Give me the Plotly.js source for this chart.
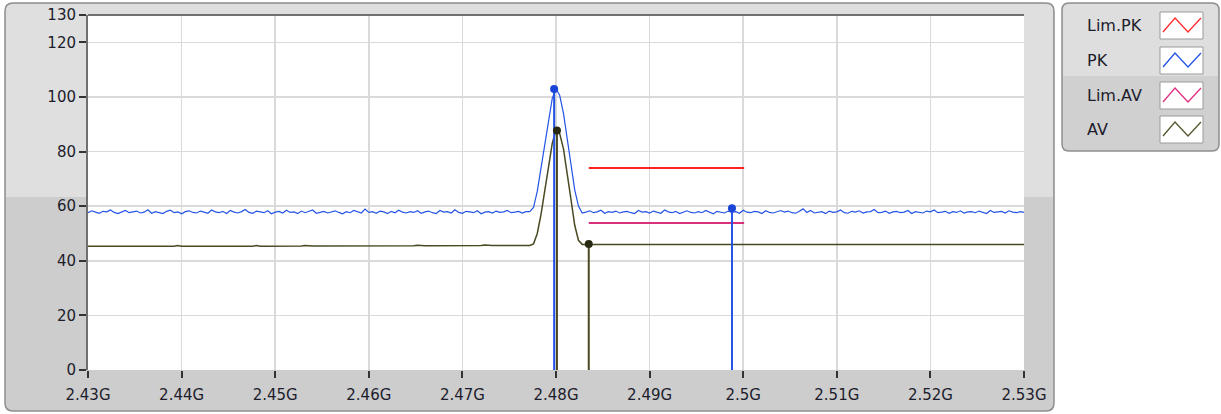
<!DOCTYPE html>
<html>
<head>
<meta charset="utf-8">
<script src="https://cdn.plot.ly/plotly-3.0.1.min.js"></script>
<style>html,body{margin:0;padding:0;background:#fff;}#chart{width:1221px;height:414px;}</style>
</head>
<body>
<div id="chart"></div>
<script>
// ---- sweep (GHz) ----
const fStart = 2.43;
const fStep = 0.0004;

// ---- PK trace (dBuV) ----
const pkLevel = [
57.6,58.3,57.8,57.4,58.1,57.9,58.6,57.7,57.3,58.0,
58.4,57.6,57.9,58.2,57.5,57.8,58.7,57.4,58.0,57.7,
57.3,58.1,58.5,57.6,57.9,57.2,58.0,58.3,57.7,57.5,
58.2,57.8,57.4,58.6,57.9,57.6,58.1,57.3,58.4,57.8,
57.5,58.0,58.8,57.7,57.4,58.2,57.9,57.6,58.3,57.2,
57.8,58.1,57.5,58.5,57.7,57.9,57.3,58.2,57.6,58.0,
58.6,57.4,57.8,58.1,57.5,57.9,58.3,57.7,57.2,58.0,
57.6,58.4,57.8,57.5,58.9,57.7,58.0,57.4,58.2,57.9,
57.3,58.1,57.6,58.5,57.8,57.5,58.0,57.7,58.3,57.4,
57.9,58.2,57.6,57.3,58.4,57.8,58.0,57.5,58.7,57.7,
57.4,58.1,57.9,57.6,58.3,57.2,57.8,58.0,57.5,58.2,
57.7,57.9,58.4,57.6,57.8,58.1,57.5,58.0,
58.0,59.5,65.5,74.0,83.0,92.0,99.5,103.0,100.5,94.0,85.0,75.0,66.0,60.0,57.5,
57.8,58.3,57.6,57.9,58.5,57.4,58.0,57.7,58.2,57.5,
57.9,58.1,57.6,57.3,58.4,57.8,58.0,57.5,58.2,57.7,
57.4,58.6,57.9,57.6,58.1,57.3,57.8,58.3,57.7,57.5,
58.0,57.6,58.4,57.9,57.2,58.1,57.8,57.5,58.2,57.7,
58.0,57.4,58.5,57.8,57.6,58.1,57.9,57.3,58.3,57.7,
57.5,58.0,58.4,57.8,58.2,57.6,57.4,58.1,59.0,57.7,
58.4,57.5,57.8,58.0,57.3,58.2,57.7,57.9,58.6,57.6,
57.4,58.1,57.8,58.3,57.5,57.9,58.0,58.8,57.6,57.7,
58.2,57.4,57.9,58.1,57.6,57.8,58.4,57.3,58.0,57.7,
57.5,58.2,57.9,58.6,57.6,57.8,58.1,57.4,58.0,57.7,
58.3,57.5,57.9,58.0,57.6,58.2,57.8,57.3,58.4,57.7,
57.9,58.1,57.5,58.3,57.8,57.6,58.0,57.7
];

// ---- AV trace (dBuV) ----
const avLevel = [
45.3,45.3,45.3,45.3,45.3,45.3,45.3,45.3,45.3,45.3,
45.3,45.3,45.3,45.3,45.3,45.3,45.3,45.3,45.3,45.3,
45.3,45.3,45.3,45.3,45.6,45.3,45.3,45.3,45.3,45.3,
45.3,45.3,45.3,45.3,45.3,45.3,45.5,45.3,45.3,45.5,
45.5,45.3,45.3,45.3,45.3,45.6,45.3,45.3,45.3,45.5,
45.3,45.3,45.4,45.4,45.4,45.4,45.4,45.4,45.6,45.4,
45.4,45.4,45.4,45.4,45.4,45.4,45.4,45.4,45.4,45.4,
45.4,45.4,45.4,45.6,45.4,45.4,45.4,45.4,45.4,45.4,
45.5,45.5,45.5,45.5,45.5,45.5,45.5,45.5,45.7,45.5,
45.5,45.5,45.5,45.5,45.5,45.5,45.5,45.5,45.5,45.5,
45.6,45.6,45.6,45.6,45.6,45.6,45.8,45.6,45.6,45.6,
45.6,45.6,45.6,45.6,45.6,45.6,45.6,45.6,
45.6,46.2,50.0,57.0,65.5,74.5,83.0,88.0,86.5,81.0,72.5,62.5,53.0,47.5,46.0,
46.0,46.0,46.0,46.0,46.0,46.0,46.0,46.0,46.0,46.0,
46.0,46.0,46.0,46.1,46.0,46.0,46.0,46.0,46.0,46.0,
46.0,46.0,46.0,46.0,46.0,46.0,46.0,46.0,46.0,46.0,
46.0,46.0,46.0,46.0,46.0,46.0,46.0,46.0,46.0,46.0,
46.0,46.0,46.0,46.0,46.1,46.0,46.0,46.0,46.0,46.0,
46.0,46.0,46.0,46.0,46.0,46.0,46.0,46.0,46.0,46.0,
46.0,46.0,46.0,46.0,46.0,46.0,46.0,46.0,46.0,46.0,
46.0,46.0,46.0,46.0,46.0,46.1,46.0,46.0,46.0,46.0,
46.0,46.0,46.0,46.0,46.0,46.0,46.0,46.0,46.0,46.0,
46.0,46.0,46.0,46.0,46.0,46.0,46.0,46.0,46.0,46.0,
46.0,46.0,46.0,46.0,46.0,46.0,46.0,46.0,46.0,46.0,
46.0,46.0,46.0,46.0,46.0,46.0,46.0,46.0
];

// ---- limit lines ----
const limFreq = [2.4835, 2.5001];
const limPK = [74.0, 74.0];
const limAV = [53.8, 53.8];

// ---- markers ----
const pkMarkFreq = [2.4798, 2.4988];
const pkMarkLevel = [102.9, 59.2];
const avMarkFreq = [2.4801, 2.4835];
const avMarkLevel = [87.7, 46.1];

// ---- axes ----
const xTickVals = [2.43,2.44,2.45,2.46,2.47,2.48,2.49,2.50,2.51,2.52,2.53];
const xTickText = ['2.43G','2.44G','2.45G','2.46G','2.47G','2.48G','2.49G','2.5G','2.51G','2.52G','2.53G'];
const yTickVals = [0,20,40,60,80,100,120,130];
const yTickText = ['0','20','40','60','80','100','120','130'];

// ---- legend ----
const legendNames = ['Lim.PK','PK','Lim.AV','AV'];
const legendColors = ['#ff2a2a','#2454e6','#e0307f','#55552e'];

const colPK = '#2454e6', colAV = '#4a4a22', colLimPK = '#ff2020', colLimAV = '#d8307a';

const freq = pkLevel.map((_, i) => fStart + i * fStep);

function stems(xs, ys) {
  const x = [], y = [];
  xs.forEach((v, i) => { x.push(v, v, null); y.push(0, ys[i], null); });
  return {x, y};
}
const pkStem = stems(pkMarkFreq, pkMarkLevel);
const avStem = stems(avMarkFreq, avMarkLevel);

const traces = [
  {x: freq, y: avLevel, mode: 'lines', line: {color: colAV, width: 1.5}, name: 'AV'},
  {x: freq, y: pkLevel, mode: 'lines', line: {color: colPK, width: 1.2}, name: 'PK'},
  {x: limFreq, y: limPK, mode: 'lines', line: {color: colLimPK, width: 2}, name: 'Lim.PK'},
  {x: limFreq, y: limAV, mode: 'lines', line: {color: colLimAV, width: 2}, name: 'Lim.AV'},
  {x: avStem.x, y: avStem.y, mode: 'lines', line: {color: colAV, width: 2}, showlegend: false},
  {x: pkStem.x, y: pkStem.y, mode: 'lines', line: {color: colPK, width: 2}, showlegend: false},
  {x: avMarkFreq, y: avMarkLevel, mode: 'markers', marker: {color: '#2a2a12', size: 8}, showlegend: false},
  {x: pkMarkFreq, y: pkMarkLevel, mode: 'markers', marker: {color: '#1a44d8', size: 8}, showlegend: false}
];

// pixel -> paper helpers (plot area 88..1024 x 15..370)
const PL = 88, PT = 15, PW = 936, PH = 355;
const X = px => (px - PL) / PW;
const Y = py => (PT + PH - py) / PH;
function rr(x0, y0, x1, y1, r, rb) {
  const a = X(x0), b = X(x1), c = Y(y0), d = Y(y1), rx = r / PW, ry = r / PH;
  const rbx = rb / PW, rby = rb / PH;
  return `M ${a+rx},${c} L ${b-rx},${c} Q ${b},${c} ${b},${c-ry} L ${b},${d+rby} Q ${b},${d} ${b-rbx},${d} L ${a+rbx},${d} Q ${a},${d} ${a},${d+rby} L ${a},${c-ry} Q ${a},${c} ${a+rx},${c} Z`;
}
const shp = (path, fill, lc, lw) => ({type: 'path', xref: 'paper', yref: 'paper', path, fillcolor: fill, line: {color: lc, width: lw}, layer: 'below'});

const shapes = [
  // main panel
  shp(rr(5, 3, 1054, 411, 8, 8), '#cdcdcd', 'rgba(0,0,0,0)', 0),
  shp(rr(6, 4, 1053, 197, 7, 0), '#dfdfdf', 'rgba(0,0,0,0)', 0),
  shp(rr(5, 3, 1054, 411, 8, 8), 'rgba(0,0,0,0)', '#8e8e8e', 1.5),
  // plot area
  {type: 'rect', xref: 'paper', yref: 'paper', x0: 0, x1: 1, y0: 0, y1: 1, fillcolor: '#ffffff', line: {width: 0}, layer: 'below'},
  // legend panel
  shp(rr(1062, 3, 1219, 151, 7, 7), '#d0d0d0', 'rgba(0,0,0,0)', 0),
  shp(rr(1063, 4, 1218, 76, 6, 0), '#dedede', 'rgba(0,0,0,0)', 0),
  shp(rr(1062, 3, 1219, 151, 7, 7), 'rgba(0,0,0,0)', '#8e8e8e', 1.5),
  // top border of plot
  {type: 'line', xref: 'paper', yref: 'paper', x0: 0, x1: 1, y0: 1, y1: 1, line: {color: '#707070', width: 2}, layer: 'above'}
];

const annotations = [];
const boxTops = [12, 47, 82, 116];
legendNames.forEach((name, i) => {
  const top = boxTops[i], bot = top + 27;
  shapes.push({type: 'rect', xref: 'paper', yref: 'paper', x0: X(1160), x1: X(1203), y0: Y(bot), y1: Y(top),
    fillcolor: '#ffffff', line: {color: '#9a9a9a', width: 1}, layer: 'below'});
  const lo = Y(bot - 7), hi = Y(top + 6);
  shapes.push({type: 'path', xref: 'paper', yref: 'paper',
    path: `M ${X(1163)},${lo} L ${X(1175)},${hi} L ${X(1188)},${lo} L ${X(1201)},${hi}`,
    line: {color: legendColors[i], width: 1.3}, layer: 'above'});
  annotations.push({xref: 'paper', yref: 'paper', x: X(1085), y: Y((top + bot) / 2), xanchor: 'left', yanchor: 'middle',
    text: name, showarrow: false, font: {family: 'DejaVu Sans', size: 16, color: '#1c1c2c'}});
});

const layout = {
  width: 1221, height: 414,
  margin: {l: PL, r: 1221 - PL - PW, t: PT, b: 414 - PT - PH},
  paper_bgcolor: '#ffffff', plot_bgcolor: '#ffffff',
  showlegend: false,
  font: {family: 'DejaVu Sans', size: 15, color: '#1c1c2c'},
  xaxis: {range: [2.43, 2.53], tickvals: xTickVals, ticktext: xTickText, showgrid: true, gridcolor: '#dadada', gridwidth: 1.5,
    zeroline: false, showline: false, ticks: 'outside', ticklen: 7, tickwidth: 2, tickcolor: '#333333', fixedrange: true,
    ticklabelstandoff: 4},
  yaxis: {range: [0, 130], tickvals: yTickVals, ticktext: yTickText, showgrid: true, gridcolor: '#dadada', gridwidth: 1.5,
    zeroline: false, showline: true, linecolor: '#707070', linewidth: 2, ticks: 'outside', ticklen: 7, tickwidth: 2,
    tickcolor: '#333333', fixedrange: true},
  shapes, annotations
};

Plotly.newPlot('chart', traces, layout, {staticPlot: true, displayModeBar: false});
</script>
</body>
</html>
